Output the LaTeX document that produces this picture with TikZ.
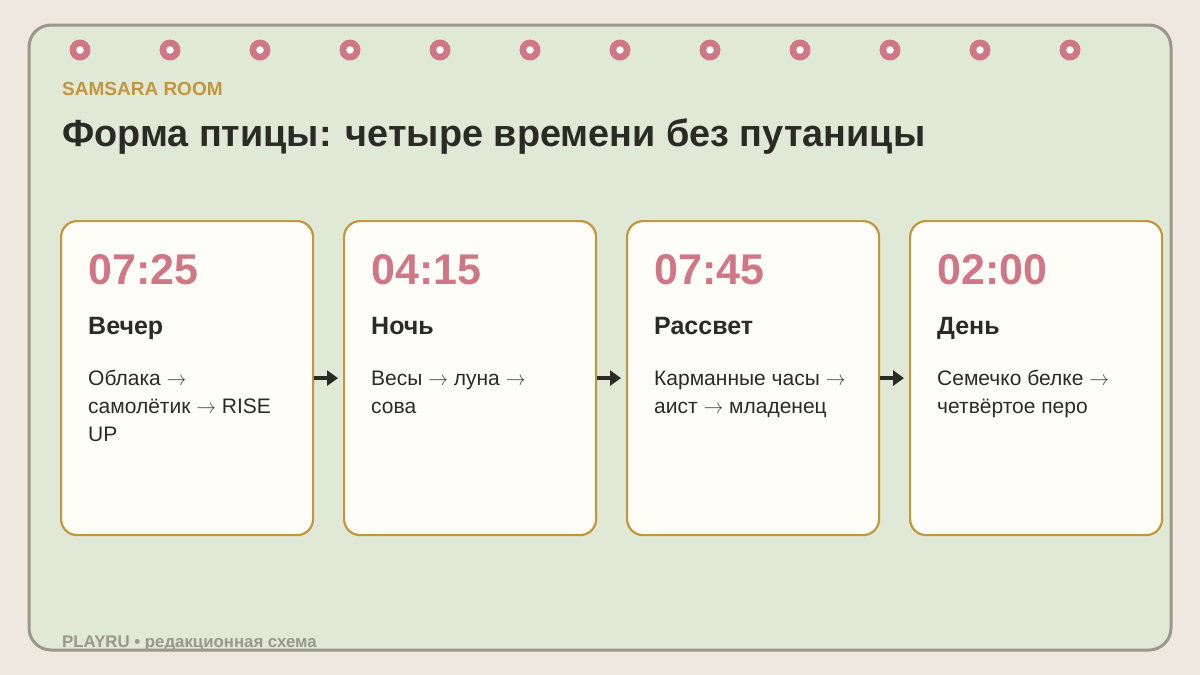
\documentclass[tikz,border=0pt]{standalone}
\usepackage{fontspec}
\setmainfont{Liberation Sans}
\newfontfamily\arrowfont{Latin Modern Roman}
\usetikzlibrary{arrows.meta}
\definecolor{bgc}{HTML}{EFE8DF}
\definecolor{panelc}{HTML}{E0E8D6}
\definecolor{edgec}{HTML}{9B978A}
\definecolor{goldc}{HTML}{C3963C}
\definecolor{pinkc}{HTML}{CF7787}
\definecolor{cardc}{HTML}{FEFDF8}
\definecolor{inkc}{HTML}{2B2B25}
\newcommand{\ar}{{\arrowfont →}}
\newcommand{\bodylines}[1]{\parbox[t]{250pt}{\raggedright #1}}
\tikzset{
  card/.style={draw=goldc, line width=2.2pt, fill=cardc, rounded corners=16pt,
    minimum width=252pt, minimum height=314pt, anchor=north west, inner sep=0pt},
  timetxt/.style={anchor=base west, inner sep=0pt, text=pinkc, font=\fontsize{43}{48}\selectfont\bfseries},
  headtxt/.style={anchor=base west, inner sep=0pt, text=inkc, font=\fontsize{25}{30}\selectfont\bfseries},
  bodytxt/.style={anchor=base west, inner sep=0pt, text=inkc, font=\fontsize{21}{28}\selectfont},
  flow/.style={draw=inkc, line width=3.5pt, -{Triangle[length=11pt,width=15pt]}, shorten >=5pt},
  ring/.style={circle, fill=pinkc, minimum size=21pt, inner sep=0pt},
  hole/.style={circle, fill=white, minimum size=7.5pt, inner sep=0pt}
}
\begin{document}
\begin{tikzpicture}[x=1pt,y=-1pt]
\useasboundingbox (0,0) rectangle (1200,675);
\fill[bgc] (0,0) rectangle (1200,675);
\draw[edgec, line width=3pt, fill=panelc, rounded corners=22pt] (29,25) rectangle (1171,650);
\foreach \i in {0,...,11} {
  \node[ring] (r\i) at (80+90*\i,50) {};
  \node[hole] (h\i) at (r\i) {};
}
\node[anchor=base west, inner sep=0pt, text=goldc, font=\fontsize{19}{22}\selectfont\bfseries] (brand) at (62,95) {SAMSARA ROOM};
\node[anchor=base west, inner sep=0pt, text=inkc, font=\fontsize{37.8}{44}\selectfont\bfseries] (title) at (62,146) {Форма птицы: четыре времени без путаницы};

\node[card] (c1) at (60,220) {};
\node[card] (c2) at (343,220) {};
\node[card] (c3) at (626,220) {};
\node[card] (c4) at (909,220) {};

\node[timetxt] (t1) at (88,284) {07:25};
\node[headtxt] (k1) at (88,334) {Вечер};
\node[bodytxt] (b1) at (88,385) {\bodylines{Облака \ar\\самолётик \ar{} RISE\\UP}};

\node[timetxt] (t2) at (371,284) {04:15};
\node[headtxt] (k2) at (371,334) {Ночь};
\node[bodytxt] (b2) at (371,385) {\bodylines{Весы \ar{} луна \ar\\сова}};

\node[timetxt] (t3) at (654,284) {07:45};
\node[headtxt] (k3) at (654,334) {Рассвет};
\node[bodytxt] (b3) at (654,385) {\bodylines{Карманные часы \ar\\аист \ar{} младенец}};

\node[timetxt] (t4) at (937,284) {02:00};
\node[headtxt] (k4) at (937,334) {День};
\node[bodytxt] (b4) at (937,385) {\bodylines{Семечко белке \ar\\четвёртое перо}};

\draw[flow] (c1.east) -- (c2.west);
\draw[flow] (c2.east) -- (c3.west);
\draw[flow] (c3.east) -- (c4.west);

\node[anchor=base west, inner sep=0pt, text=edgec, font=\fontsize{16.8}{20}\selectfont\bfseries] (foot) at (62,647) {PLAYRU • редакционная схема};
\end{tikzpicture}
\end{document}
